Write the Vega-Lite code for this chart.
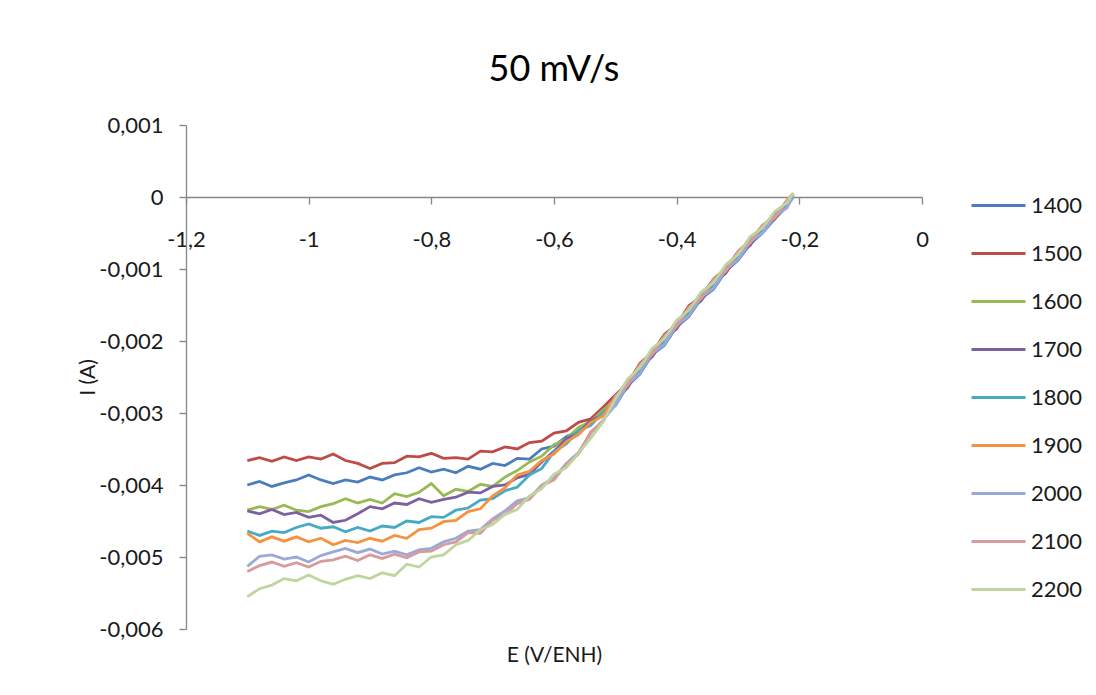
{
  "$schema": "https://vega.github.io/schema/vega-lite/v6.json",
  "autosize": {"type": "none"},
  "padding": {"left": 186, "top": 125, "right": 174, "bottom": 66},
  "width": 736,
  "height": 504,
  "background": "white",
  "title": {"text": "50 mV/s", "font": "Lato", "fontSize": 36, "fontWeight": "normal", "color": "#000000", "anchor": "middle", "frame": "group", "baseline": "alphabetic", "offset": -3},
  "data": {"values": [
{"s":"1400","e":-1.1,"i":-0.004},{"s":"1400","e":-1.08,"i":-0.00395},{"s":"1400","e":-1.06,"i":-0.00402},{"s":"1400","e":-1.04,"i":-0.00397},{"s":"1400","e":-1.02,"i":-0.00393},{"s":"1400","e":-1,"i":-0.00386},{"s":"1400","e":-0.98,"i":-0.00393},{"s":"1400","e":-0.96,"i":-0.00398},{"s":"1400","e":-0.94,"i":-0.00393},{"s":"1400","e":-0.92,"i":-0.00396},{"s":"1400","e":-0.9,"i":-0.00389},{"s":"1400","e":-0.88,"i":-0.00393},{"s":"1400","e":-0.86,"i":-0.00386},{"s":"1400","e":-0.84,"i":-0.00383},{"s":"1400","e":-0.82,"i":-0.00376},{"s":"1400","e":-0.8,"i":-0.00382},{"s":"1400","e":-0.78,"i":-0.00378},{"s":"1400","e":-0.76,"i":-0.00383},{"s":"1400","e":-0.74,"i":-0.00374},{"s":"1400","e":-0.72,"i":-0.00378},{"s":"1400","e":-0.7,"i":-0.0037},{"s":"1400","e":-0.68,"i":-0.00373},{"s":"1400","e":-0.66,"i":-0.00363},{"s":"1400","e":-0.64,"i":-0.00364},{"s":"1400","e":-0.62,"i":-0.0035},{"s":"1400","e":-0.6,"i":-0.00346},{"s":"1400","e":-0.58,"i":-0.00333},{"s":"1400","e":-0.56,"i":-0.00325},{"s":"1400","e":-0.54,"i":-0.00309},{"s":"1400","e":-0.52,"i":-0.003},{"s":"1400","e":-0.5,"i":-0.0029},{"s":"1400","e":-0.48,"i":-0.00262},{"s":"1400","e":-0.46,"i":-0.00246},{"s":"1400","e":-0.44,"i":-0.00219},{"s":"1400","e":-0.42,"i":-0.00206},{"s":"1400","e":-0.4,"i":-0.0018},{"s":"1400","e":-0.38,"i":-0.00166},{"s":"1400","e":-0.36,"i":-0.00141},{"s":"1400","e":-0.34,"i":-0.00128},{"s":"1400","e":-0.32,"i":-0.00103},{"s":"1400","e":-0.3,"i":-0.00088},{"s":"1400","e":-0.28,"i":-0.00065},{"s":"1400","e":-0.26,"i":-0.0005},{"s":"1400","e":-0.24,"i":-0.0003},{"s":"1400","e":-0.22,"i":-0.00013},{"s":"1400","e":-0.21,"i":0},
{"s":"1500","e":-1.1,"i":-0.00366},{"s":"1500","e":-1.08,"i":-0.00362},{"s":"1500","e":-1.06,"i":-0.00367},{"s":"1500","e":-1.04,"i":-0.00361},{"s":"1500","e":-1.02,"i":-0.00366},{"s":"1500","e":-1,"i":-0.00361},{"s":"1500","e":-0.98,"i":-0.00364},{"s":"1500","e":-0.96,"i":-0.00357},{"s":"1500","e":-0.94,"i":-0.00366},{"s":"1500","e":-0.92,"i":-0.0037},{"s":"1500","e":-0.9,"i":-0.00377},{"s":"1500","e":-0.88,"i":-0.0037},{"s":"1500","e":-0.86,"i":-0.00369},{"s":"1500","e":-0.84,"i":-0.0036},{"s":"1500","e":-0.82,"i":-0.00361},{"s":"1500","e":-0.8,"i":-0.00356},{"s":"1500","e":-0.78,"i":-0.00363},{"s":"1500","e":-0.76,"i":-0.00362},{"s":"1500","e":-0.74,"i":-0.00364},{"s":"1500","e":-0.72,"i":-0.00353},{"s":"1500","e":-0.7,"i":-0.00354},{"s":"1500","e":-0.68,"i":-0.00347},{"s":"1500","e":-0.66,"i":-0.0035},{"s":"1500","e":-0.64,"i":-0.00341},{"s":"1500","e":-0.62,"i":-0.00339},{"s":"1500","e":-0.6,"i":-0.00328},{"s":"1500","e":-0.58,"i":-0.00325},{"s":"1500","e":-0.56,"i":-0.00313},{"s":"1500","e":-0.54,"i":-0.00308},{"s":"1500","e":-0.52,"i":-0.00292},{"s":"1500","e":-0.5,"i":-0.00275},{"s":"1500","e":-0.48,"i":-0.00259},{"s":"1500","e":-0.46,"i":-0.00231},{"s":"1500","e":-0.44,"i":-0.00216},{"s":"1500","e":-0.42,"i":-0.00191},{"s":"1500","e":-0.4,"i":-0.00177},{"s":"1500","e":-0.38,"i":-0.00151},{"s":"1500","e":-0.36,"i":-0.00138},{"s":"1500","e":-0.34,"i":-0.00114},{"s":"1500","e":-0.32,"i":-0.00099},{"s":"1500","e":-0.3,"i":-0.00076},{"s":"1500","e":-0.28,"i":-0.0006},{"s":"1500","e":-0.26,"i":-0.0004},{"s":"1500","e":-0.24,"i":-0.00025},{"s":"1500","e":-0.22,"i":-0.00006},{"s":"1500","e":-0.21,"i":0.00004},
{"s":"1600","e":-1.1,"i":-0.00435},{"s":"1600","e":-1.08,"i":-0.0043},{"s":"1600","e":-1.06,"i":-0.00434},{"s":"1600","e":-1.04,"i":-0.00428},{"s":"1600","e":-1.02,"i":-0.00435},{"s":"1600","e":-1,"i":-0.00437},{"s":"1600","e":-0.98,"i":-0.0043},{"s":"1600","e":-0.96,"i":-0.00426},{"s":"1600","e":-0.94,"i":-0.00419},{"s":"1600","e":-0.92,"i":-0.00425},{"s":"1600","e":-0.9,"i":-0.0042},{"s":"1600","e":-0.88,"i":-0.00425},{"s":"1600","e":-0.86,"i":-0.00412},{"s":"1600","e":-0.84,"i":-0.00416},{"s":"1600","e":-0.82,"i":-0.0041},{"s":"1600","e":-0.8,"i":-0.00398},{"s":"1600","e":-0.78,"i":-0.00415},{"s":"1600","e":-0.76,"i":-0.00406},{"s":"1600","e":-0.74,"i":-0.00409},{"s":"1600","e":-0.72,"i":-0.00399},{"s":"1600","e":-0.7,"i":-0.00402},{"s":"1600","e":-0.68,"i":-0.00389},{"s":"1600","e":-0.66,"i":-0.0038},{"s":"1600","e":-0.64,"i":-0.00368},{"s":"1600","e":-0.62,"i":-0.0036},{"s":"1600","e":-0.6,"i":-0.00344},{"s":"1600","e":-0.58,"i":-0.00336},{"s":"1600","e":-0.56,"i":-0.0032},{"s":"1600","e":-0.54,"i":-0.00312},{"s":"1600","e":-0.52,"i":-0.00296},{"s":"1600","e":-0.5,"i":-0.00283},{"s":"1600","e":-0.48,"i":-0.00255},{"s":"1600","e":-0.46,"i":-0.00239},{"s":"1600","e":-0.44,"i":-0.00212},{"s":"1600","e":-0.42,"i":-0.00199},{"s":"1600","e":-0.4,"i":-0.00173},{"s":"1600","e":-0.38,"i":-0.00159},{"s":"1600","e":-0.36,"i":-0.00134},{"s":"1600","e":-0.34,"i":-0.00121},{"s":"1600","e":-0.32,"i":-0.00096},{"s":"1600","e":-0.3,"i":-0.00082},{"s":"1600","e":-0.28,"i":-0.00058},{"s":"1600","e":-0.26,"i":-0.00044},{"s":"1600","e":-0.24,"i":-0.00023},{"s":"1600","e":-0.22,"i":-0.00009},{"s":"1600","e":-0.21,"i":0.00005},
{"s":"1700","e":-1.1,"i":-0.00436},{"s":"1700","e":-1.08,"i":-0.0044},{"s":"1700","e":-1.06,"i":-0.00434},{"s":"1700","e":-1.04,"i":-0.00441},{"s":"1700","e":-1.02,"i":-0.00438},{"s":"1700","e":-1,"i":-0.00445},{"s":"1700","e":-0.98,"i":-0.00442},{"s":"1700","e":-0.96,"i":-0.00452},{"s":"1700","e":-0.94,"i":-0.00449},{"s":"1700","e":-0.92,"i":-0.0044},{"s":"1700","e":-0.9,"i":-0.0043},{"s":"1700","e":-0.88,"i":-0.00433},{"s":"1700","e":-0.86,"i":-0.00425},{"s":"1700","e":-0.84,"i":-0.00427},{"s":"1700","e":-0.82,"i":-0.00419},{"s":"1700","e":-0.8,"i":-0.00424},{"s":"1700","e":-0.78,"i":-0.0042},{"s":"1700","e":-0.76,"i":-0.00417},{"s":"1700","e":-0.74,"i":-0.0041},{"s":"1700","e":-0.72,"i":-0.00411},{"s":"1700","e":-0.7,"i":-0.00402},{"s":"1700","e":-0.68,"i":-0.004},{"s":"1700","e":-0.66,"i":-0.0039},{"s":"1700","e":-0.64,"i":-0.00385},{"s":"1700","e":-0.62,"i":-0.00368},{"s":"1700","e":-0.6,"i":-0.00353},{"s":"1700","e":-0.58,"i":-0.00336},{"s":"1700","e":-0.56,"i":-0.00327},{"s":"1700","e":-0.54,"i":-0.00311},{"s":"1700","e":-0.52,"i":-0.00302},{"s":"1700","e":-0.5,"i":-0.00281},{"s":"1700","e":-0.48,"i":-0.00265},{"s":"1700","e":-0.46,"i":-0.00237},{"s":"1700","e":-0.44,"i":-0.00222},{"s":"1700","e":-0.42,"i":-0.00197},{"s":"1700","e":-0.4,"i":-0.00183},{"s":"1700","e":-0.38,"i":-0.00157},{"s":"1700","e":-0.36,"i":-0.00144},{"s":"1700","e":-0.34,"i":-0.00119},{"s":"1700","e":-0.32,"i":-0.00106},{"s":"1700","e":-0.3,"i":-0.0008},{"s":"1700","e":-0.28,"i":-0.00067},{"s":"1700","e":-0.26,"i":-0.00043},{"s":"1700","e":-0.24,"i":-0.00031},{"s":"1700","e":-0.22,"i":-0.00008},{"s":"1700","e":-0.21,"i":0.00002},
{"s":"1800","e":-1.1,"i":-0.00464},{"s":"1800","e":-1.08,"i":-0.0047},{"s":"1800","e":-1.06,"i":-0.00464},{"s":"1800","e":-1.04,"i":-0.00466},{"s":"1800","e":-1.02,"i":-0.00459},{"s":"1800","e":-1,"i":-0.00454},{"s":"1800","e":-0.98,"i":-0.0046},{"s":"1800","e":-0.96,"i":-0.00458},{"s":"1800","e":-0.94,"i":-0.00465},{"s":"1800","e":-0.92,"i":-0.00459},{"s":"1800","e":-0.9,"i":-0.00464},{"s":"1800","e":-0.88,"i":-0.00457},{"s":"1800","e":-0.86,"i":-0.00459},{"s":"1800","e":-0.84,"i":-0.0045},{"s":"1800","e":-0.82,"i":-0.00452},{"s":"1800","e":-0.8,"i":-0.00444},{"s":"1800","e":-0.78,"i":-0.00445},{"s":"1800","e":-0.76,"i":-0.00435},{"s":"1800","e":-0.74,"i":-0.00432},{"s":"1800","e":-0.72,"i":-0.00421},{"s":"1800","e":-0.7,"i":-0.00419},{"s":"1800","e":-0.68,"i":-0.00408},{"s":"1800","e":-0.66,"i":-0.00403},{"s":"1800","e":-0.64,"i":-0.00386},{"s":"1800","e":-0.62,"i":-0.00377},{"s":"1800","e":-0.6,"i":-0.00354},{"s":"1800","e":-0.58,"i":-0.00343},{"s":"1800","e":-0.56,"i":-0.00325},{"s":"1800","e":-0.54,"i":-0.00317},{"s":"1800","e":-0.52,"i":-0.00299},{"s":"1800","e":-0.5,"i":-0.00286},{"s":"1800","e":-0.48,"i":-0.00257},{"s":"1800","e":-0.46,"i":-0.00242},{"s":"1800","e":-0.44,"i":-0.00214},{"s":"1800","e":-0.42,"i":-0.00202},{"s":"1800","e":-0.4,"i":-0.00175},{"s":"1800","e":-0.38,"i":-0.00162},{"s":"1800","e":-0.36,"i":-0.00136},{"s":"1800","e":-0.34,"i":-0.00124},{"s":"1800","e":-0.32,"i":-0.00098},{"s":"1800","e":-0.3,"i":-0.00084},{"s":"1800","e":-0.28,"i":-0.00059},{"s":"1800","e":-0.26,"i":-0.00047},{"s":"1800","e":-0.24,"i":-0.00024},{"s":"1800","e":-0.22,"i":-0.00012},{"s":"1800","e":-0.21,"i":0.00003},
{"s":"1900","e":-1.1,"i":-0.00467},{"s":"1900","e":-1.08,"i":-0.00479},{"s":"1900","e":-1.06,"i":-0.00472},{"s":"1900","e":-1.04,"i":-0.00478},{"s":"1900","e":-1.02,"i":-0.00472},{"s":"1900","e":-1,"i":-0.00479},{"s":"1900","e":-0.98,"i":-0.00474},{"s":"1900","e":-0.96,"i":-0.00483},{"s":"1900","e":-0.94,"i":-0.00477},{"s":"1900","e":-0.92,"i":-0.0048},{"s":"1900","e":-0.9,"i":-0.00474},{"s":"1900","e":-0.88,"i":-0.00478},{"s":"1900","e":-0.86,"i":-0.0047},{"s":"1900","e":-0.84,"i":-0.00474},{"s":"1900","e":-0.82,"i":-0.00462},{"s":"1900","e":-0.8,"i":-0.0046},{"s":"1900","e":-0.78,"i":-0.00451},{"s":"1900","e":-0.76,"i":-0.00449},{"s":"1900","e":-0.74,"i":-0.00437},{"s":"1900","e":-0.72,"i":-0.00433},{"s":"1900","e":-0.7,"i":-0.00415},{"s":"1900","e":-0.68,"i":-0.00404},{"s":"1900","e":-0.66,"i":-0.00386},{"s":"1900","e":-0.64,"i":-0.00381},{"s":"1900","e":-0.62,"i":-0.00366},{"s":"1900","e":-0.6,"i":-0.00357},{"s":"1900","e":-0.58,"i":-0.0034},{"s":"1900","e":-0.56,"i":-0.0033},{"s":"1900","e":-0.54,"i":-0.00313},{"s":"1900","e":-0.52,"i":-0.00304},{"s":"1900","e":-0.5,"i":-0.00278},{"s":"1900","e":-0.48,"i":-0.00262},{"s":"1900","e":-0.46,"i":-0.00234},{"s":"1900","e":-0.44,"i":-0.00219},{"s":"1900","e":-0.42,"i":-0.00194},{"s":"1900","e":-0.4,"i":-0.0018},{"s":"1900","e":-0.38,"i":-0.00154},{"s":"1900","e":-0.36,"i":-0.00141},{"s":"1900","e":-0.34,"i":-0.00116},{"s":"1900","e":-0.32,"i":-0.00103},{"s":"1900","e":-0.3,"i":-0.00077},{"s":"1900","e":-0.28,"i":-0.00064},{"s":"1900","e":-0.26,"i":-0.0004},{"s":"1900","e":-0.24,"i":-0.00029},{"s":"1900","e":-0.22,"i":-0.00005},{"s":"1900","e":-0.21,"i":0.00004},
{"s":"2000","e":-1.1,"i":-0.00513},{"s":"2000","e":-1.08,"i":-0.00499},{"s":"2000","e":-1.06,"i":-0.00497},{"s":"2000","e":-1.04,"i":-0.00503},{"s":"2000","e":-1.02,"i":-0.005},{"s":"2000","e":-1,"i":-0.00507},{"s":"2000","e":-0.98,"i":-0.00498},{"s":"2000","e":-0.96,"i":-0.00493},{"s":"2000","e":-0.94,"i":-0.00488},{"s":"2000","e":-0.92,"i":-0.00494},{"s":"2000","e":-0.9,"i":-0.00489},{"s":"2000","e":-0.88,"i":-0.00496},{"s":"2000","e":-0.86,"i":-0.00492},{"s":"2000","e":-0.84,"i":-0.00497},{"s":"2000","e":-0.82,"i":-0.0049},{"s":"2000","e":-0.8,"i":-0.00488},{"s":"2000","e":-0.78,"i":-0.00479},{"s":"2000","e":-0.76,"i":-0.00474},{"s":"2000","e":-0.74,"i":-0.00464},{"s":"2000","e":-0.72,"i":-0.00462},{"s":"2000","e":-0.7,"i":-0.00447},{"s":"2000","e":-0.68,"i":-0.00436},{"s":"2000","e":-0.66,"i":-0.00422},{"s":"2000","e":-0.64,"i":-0.00418},{"s":"2000","e":-0.62,"i":-0.004},{"s":"2000","e":-0.6,"i":-0.0039},{"s":"2000","e":-0.58,"i":-0.0037},{"s":"2000","e":-0.56,"i":-0.00355},{"s":"2000","e":-0.54,"i":-0.00328},{"s":"2000","e":-0.52,"i":-0.0031},{"s":"2000","e":-0.5,"i":-0.00289},{"s":"2000","e":-0.48,"i":-0.0026},{"s":"2000","e":-0.46,"i":-0.00245},{"s":"2000","e":-0.44,"i":-0.00217},{"s":"2000","e":-0.42,"i":-0.00205},{"s":"2000","e":-0.4,"i":-0.00178},{"s":"2000","e":-0.38,"i":-0.00165},{"s":"2000","e":-0.36,"i":-0.00139},{"s":"2000","e":-0.34,"i":-0.00127},{"s":"2000","e":-0.32,"i":-0.00101},{"s":"2000","e":-0.3,"i":-0.00087},{"s":"2000","e":-0.28,"i":-0.00062},{"s":"2000","e":-0.26,"i":-0.0005},{"s":"2000","e":-0.24,"i":-0.00027},{"s":"2000","e":-0.22,"i":-0.00015},{"s":"2000","e":-0.21,"i":0.00002},
{"s":"2100","e":-1.1,"i":-0.0052},{"s":"2100","e":-1.08,"i":-0.00512},{"s":"2100","e":-1.06,"i":-0.00507},{"s":"2100","e":-1.04,"i":-0.00513},{"s":"2100","e":-1.02,"i":-0.00508},{"s":"2100","e":-1,"i":-0.00514},{"s":"2100","e":-0.98,"i":-0.00506},{"s":"2100","e":-0.96,"i":-0.00504},{"s":"2100","e":-0.94,"i":-0.00499},{"s":"2100","e":-0.92,"i":-0.00505},{"s":"2100","e":-0.9,"i":-0.00497},{"s":"2100","e":-0.88,"i":-0.00502},{"s":"2100","e":-0.86,"i":-0.00496},{"s":"2100","e":-0.84,"i":-0.00501},{"s":"2100","e":-0.82,"i":-0.00493},{"s":"2100","e":-0.8,"i":-0.00492},{"s":"2100","e":-0.78,"i":-0.00483},{"s":"2100","e":-0.76,"i":-0.00479},{"s":"2100","e":-0.74,"i":-0.00466},{"s":"2100","e":-0.72,"i":-0.00467},{"s":"2100","e":-0.7,"i":-0.00449},{"s":"2100","e":-0.68,"i":-0.00441},{"s":"2100","e":-0.66,"i":-0.00426},{"s":"2100","e":-0.64,"i":-0.0042},{"s":"2100","e":-0.62,"i":-0.00401},{"s":"2100","e":-0.6,"i":-0.00393},{"s":"2100","e":-0.58,"i":-0.00371},{"s":"2100","e":-0.56,"i":-0.00357},{"s":"2100","e":-0.54,"i":-0.00326},{"s":"2100","e":-0.52,"i":-0.00312},{"s":"2100","e":-0.5,"i":-0.00277},{"s":"2100","e":-0.48,"i":-0.00261},{"s":"2100","e":-0.46,"i":-0.00233},{"s":"2100","e":-0.44,"i":-0.00218},{"s":"2100","e":-0.42,"i":-0.00193},{"s":"2100","e":-0.4,"i":-0.00179},{"s":"2100","e":-0.38,"i":-0.00153},{"s":"2100","e":-0.36,"i":-0.0014},{"s":"2100","e":-0.34,"i":-0.00115},{"s":"2100","e":-0.32,"i":-0.00102},{"s":"2100","e":-0.3,"i":-0.00076},{"s":"2100","e":-0.28,"i":-0.00063},{"s":"2100","e":-0.26,"i":-0.00039},{"s":"2100","e":-0.24,"i":-0.00028},{"s":"2100","e":-0.22,"i":-0.00004},{"s":"2100","e":-0.21,"i":0.00005},
{"s":"2200","e":-1.1,"i":-0.00555},{"s":"2200","e":-1.08,"i":-0.00544},{"s":"2200","e":-1.06,"i":-0.00539},{"s":"2200","e":-1.04,"i":-0.0053},{"s":"2200","e":-1.02,"i":-0.00533},{"s":"2200","e":-1,"i":-0.00525},{"s":"2200","e":-0.98,"i":-0.00533},{"s":"2200","e":-0.96,"i":-0.00538},{"s":"2200","e":-0.94,"i":-0.00531},{"s":"2200","e":-0.92,"i":-0.00526},{"s":"2200","e":-0.9,"i":-0.0053},{"s":"2200","e":-0.88,"i":-0.00522},{"s":"2200","e":-0.86,"i":-0.00526},{"s":"2200","e":-0.84,"i":-0.0051},{"s":"2200","e":-0.82,"i":-0.00514},{"s":"2200","e":-0.8,"i":-0.005},{"s":"2200","e":-0.78,"i":-0.00497},{"s":"2200","e":-0.76,"i":-0.00483},{"s":"2200","e":-0.74,"i":-0.00477},{"s":"2200","e":-0.72,"i":-0.00462},{"s":"2200","e":-0.7,"i":-0.00455},{"s":"2200","e":-0.68,"i":-0.00441},{"s":"2200","e":-0.66,"i":-0.00434},{"s":"2200","e":-0.64,"i":-0.00415},{"s":"2200","e":-0.62,"i":-0.00405},{"s":"2200","e":-0.6,"i":-0.00385},{"s":"2200","e":-0.58,"i":-0.00376},{"s":"2200","e":-0.56,"i":-0.00356},{"s":"2200","e":-0.54,"i":-0.00335},{"s":"2200","e":-0.52,"i":-0.00312},{"s":"2200","e":-0.5,"i":-0.00281},{"s":"2200","e":-0.48,"i":-0.00253},{"s":"2200","e":-0.46,"i":-0.00237},{"s":"2200","e":-0.44,"i":-0.0021},{"s":"2200","e":-0.42,"i":-0.00197},{"s":"2200","e":-0.4,"i":-0.00171},{"s":"2200","e":-0.38,"i":-0.00157},{"s":"2200","e":-0.36,"i":-0.00132},{"s":"2200","e":-0.34,"i":-0.00119},{"s":"2200","e":-0.32,"i":-0.00094},{"s":"2200","e":-0.3,"i":-0.0008},{"s":"2200","e":-0.28,"i":-0.00055},{"s":"2200","e":-0.26,"i":-0.00043},{"s":"2200","e":-0.24,"i":-0.0002},{"s":"2200","e":-0.22,"i":-0.00008},{"s":"2200","e":-0.21,"i":0.00006}
  ]},
  "mark": {"type": "line", "strokeWidth": 2.8, "clip": false},
  "encoding": {
    "x": {
      "field": "e", "type": "quantitative",
      "scale": {"domain": [-1.2, 0], "nice": false, "zero": false},
      "axis": {
        "values": [-1.2, -1, -0.8, -0.6, -0.4, -0.2, 0],
        "offset": -432,
        "labelExpr": "replace(replace(format(datum.value, '~g'), '\u2212', '-'), '.', ',')",
        "labelPadding": 25,
        "labelFlush": false,
        "title": "E (V/ENH)",
        "titleY": 458,
        "titleBaseline": "middle"
      }
    },
    "y": {
      "field": "i", "type": "quantitative",
      "scale": {"domain": [-0.006, 0.001], "nice": false, "zero": false},
      "axis": {
        "values": [-0.006, -0.005, -0.004, -0.003, -0.002, -0.001, 0, 0.001],
        "labelExpr": "replace(replace(format(datum.value, '~g'), '\u2212', '-'), '.', ',')",
        "tickSize": 7,
        "labelPadding": 16,
        "title": "I (A)",
        "titleX": -98,
        "titleY": 252,
        "titleAngle": -90,
        "titleBaseline": "middle",
        "titleAlign": "center"
      }
    },
    "color": {
      "field": "s", "type": "nominal",
      "scale": {
        "domain": ["1400", "1500", "1600", "1700", "1800", "1900", "2000", "2100", "2200"],
        "range": ["#4A7EBB", "#BE4B48", "#98B954", "#7D60A0", "#46AAC5", "#F69240", "#9AA9D8", "#D99A9C", "#BFD59E"]
      },
      "legend": {
        "title": null,
        "orient": "none",
        "legendX": 784,
        "legendY": 52,
        "padding": 0,
        "symbolType": "stroke",
        "symbolSize": 2916,
        "symbolStrokeWidth": 3,
        "rowPadding": 8,
        "labelOffset": 4,
        "labelFont": "Lato",
        "labelFontSize": 22,
        "labelColor": "#1a1a1a"
      }
    }
  },
  "config": {
    "view": {"stroke": null},
    "font": "Lato",
    "axis": {
      "grid": false,
      "domainColor": "#868686",
      "domainWidth": 1.3,
      "tickColor": "#868686",
      "tickWidth": 1.3,
      "tickSize": 7,
      "labelColor": "#1a1a1a",
      "titleColor": "#1a1a1a",
      "labelFont": "Lato",
      "titleFont": "Lato",
      "labelFontSize": 22,
      "titleFontSize": 21,
      "titleFontWeight": "normal"
    }
  }
}
